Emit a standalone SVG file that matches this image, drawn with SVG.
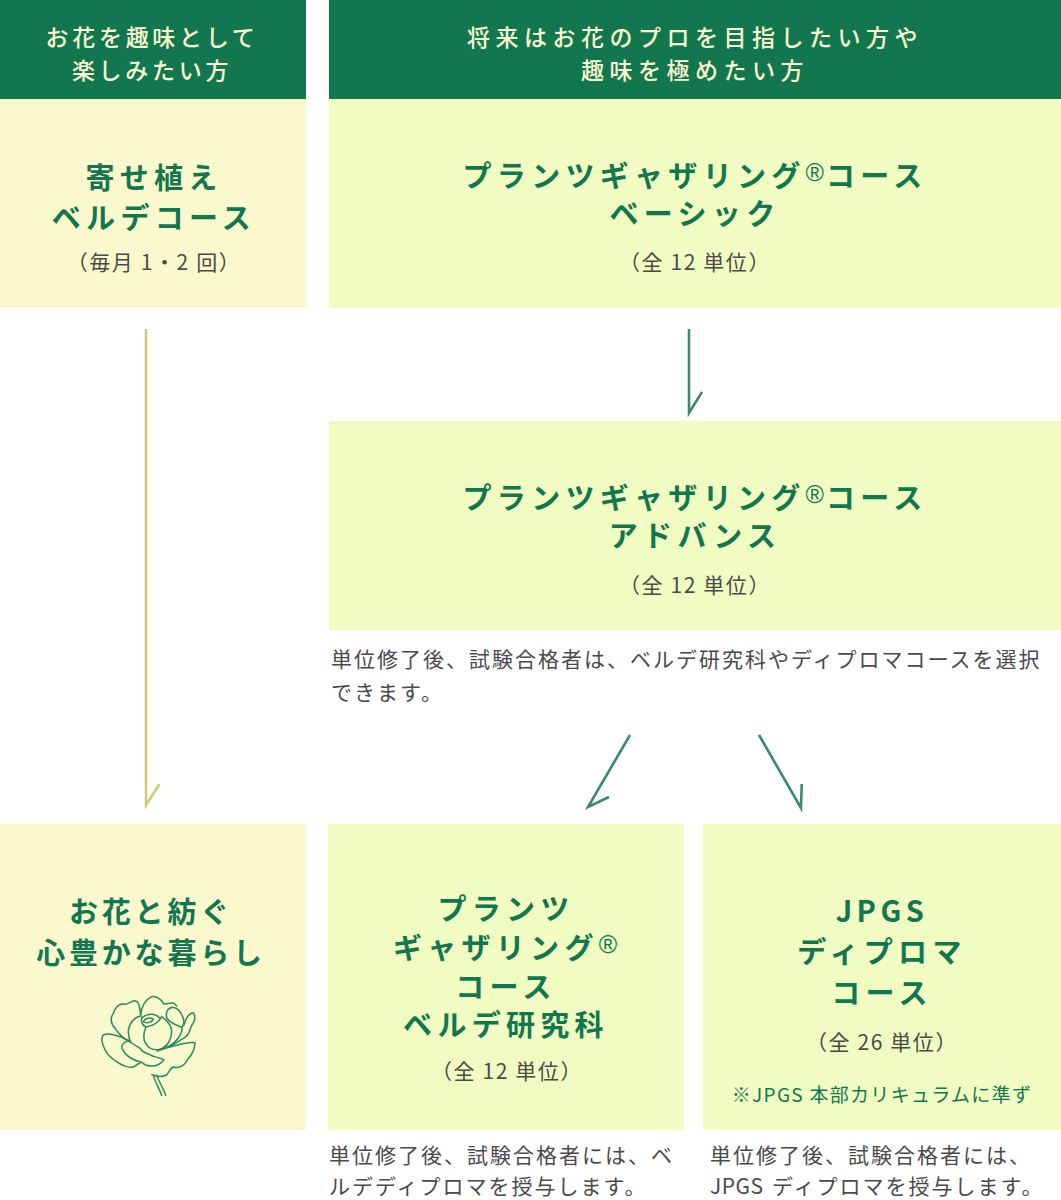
<svg xmlns="http://www.w3.org/2000/svg" width="1061" height="1200" viewBox="0 0 1061 1200">
<style>
text{font-family:"Noto Sans CJK JP","Noto Sans",sans-serif;text-anchor:middle}
.hd{fill:#fbf8cf;font-size:23px;font-weight:500;letter-spacing:3.7px}
.hd2{letter-spacing:5.500px}
.tt{fill:#12774f;font-size:29px;font-weight:700;letter-spacing:5.300px}
.tl{letter-spacing:3.800px}
.reg{font-family:"Liberation Sans",sans-serif;font-size:25px;font-weight:400;letter-spacing:2px}
.sub{fill:#4a4a4a;font-size:21px;font-weight:400;letter-spacing:1.600px}
.note{fill:#4a4a4a;font-size:21px;font-weight:400;letter-spacing:2px;text-anchor:start}
.lat{letter-spacing:.5px}
.sm{fill:#12774f;font-size:19px;font-weight:400;letter-spacing:1.300px}
.g{fill:#12774f}.a{fill:#faf8cd}.b{fill:#f0fcc2}
.c1{fill:none;stroke:#3b8b6b;stroke-width:2.6}
.c2{fill:none;stroke:#cfcb78;stroke-width:2.6}
.fl{fill:none;stroke:#2b8a60;stroke-width:4.500;stroke-linejoin:round;stroke-linecap:round}
</style>
<g id="connectors">
<path class="c2" d="M146 329V805L159.500 784"/>
<path class="c1" d="M689 329V413L702 392"/>
<path class="c1" d="M630 735L588 807L609 797"/>
<path class="c1" d="M759 735L801 808L801.700 784"/>
</g>
<g id="node-hobby">
<rect class="g" x="0" y="0" width="306" height="99"/>
<text class="hd" x="152" y="46">お花を趣味として</text>
<text class="hd" x="152" y="79">楽しみたい方</text>
<rect class="a" x="0" y="99" width="306" height="209"/>
<text class="tt" x="154" y="189">寄せ植え</text>
<text class="tt" x="154" y="229">ベルデコース</text>
<text class="sub" x="154" y="270">（毎月 1・2 回）</text>
</g>
<g id="node-basic">
<rect class="g" x="329" y="0" width="732" height="99"/>
<text class="hd hd2" x="695" y="46">将来はお花のプロを目指したい方や</text>
<text class="hd hd2" x="695" y="79">趣味を極めたい方</text>
<rect class="b" x="329" y="99" width="732" height="209"/>
<text class="tt" x="695" y="187">プランツギャザリング<tspan class="reg" dy="-6">®</tspan><tspan dy="6">コース</tspan></text>
<text class="tt" x="695" y="225">ベーシック</text>
<text class="sub" x="695" y="270">（全 12 単位）</text>
</g>
<g id="node-advance">
<rect class="b" x="329" y="421" width="732" height="209"/>
<text class="tt" x="695" y="509">プランツギャザリング<tspan class="reg" dy="-6">®</tspan><tspan dy="6">コース</tspan></text>
<text class="tt" x="695" y="547">アドバンス</text>
<text class="sub" x="695" y="593">（全 12 単位）</text>
<text class="note" x="331" y="667">単位修了後、試験合格者は、ベルデ研究科やディプロマコースを選択</text>
<text class="note" x="331" y="700">できます。</text>
</g>
<g id="node-life">
<rect class="a" x="0" y="824" width="306" height="306"/>
<text class="tt tl" x="151" y="923">お花と紡ぐ</text>
<text class="tt tl" x="151" y="964">心豊かな暮らし</text>
<g class="fl" transform="translate(60 980) scale(.3333)">
<path d="M242 105C238 82 240 65 225 62C210 62 205 76 190 72C175 72 165 85 160 100C150 115 152 130 165 145C176 158 185 178 212 184"/>
<path d="M242 105C245 75 255 60 275 50C290 47 305 60 312 72C325 72 340 62 350 78"/>
<path d="M320 112C316 95 325 82 340 82C352 84 364 98 370 115C372 122 372 130 368 140"/>
<path d="M372 135C376 120 385 100 400 98C408 108 404 125 396 135C388 148 392 160 375 172C365 178 355 185 330 200"/>
<path d="M242 108C225 112 210 125 205 150C205 165 208 178 212 186"/>
<path d="M245 112C243 125 245 135 258 141C250 160 248 178 258 192C268 207 285 212 300 208C322 200 336 178 335 152C333 138 322 122 305 110C298 125 280 138 258 141"/>
<path d="M245 115C258 100 285 98 298 113"/>
<path d="M250 125C256 115 268 110 280 118C276 126 262 132 250 125Z"/>
<path d="M320 114C330 130 350 136 366 142C368 160 352 185 328 198C315 204 305 208 292 212"/>
<path d="M130 165C145 158 175 165 205 182C190 188 183 195 186 205C195 225 215 240 245 247C260 260 290 266 312 240C300 232 280 232 270 224C255 218 245 215 240 205C225 195 215 188 205 184"/>
<path d="M130 165C120 178 130 205 145 225C160 240 190 262 215 262C225 262 228 252 240 250"/>
<path d="M292 212C320 206 370 185 405 188C405 205 395 225 382 240C375 255 360 265 345 262C335 258 330 270 320 285C305 292 285 288 275 284"/>
<path d="M280 286C285 305 300 330 305 346"/>
<path d="M290 286C297 305 310 325 317 346"/>
</g>
</g>
<g id="node-kenkyuka">
<rect class="b" x="328" y="824" width="356" height="306"/>
<text class="tt" x="506" y="920">プランツ</text>
<text class="tt" x="506" y="959">ギャザリング<tspan class="reg" dy="-6">®</tspan></text>
<text class="tt" x="506" y="998">コース</text>
<text class="tt" x="506" y="1036">ベルデ研究科</text>
<text class="sub" x="507" y="1079">（全 12 単位）</text>
<text class="note" x="329" y="1163">単位修了後、試験合格者には、ベ</text>
<text class="note" x="329" y="1193.800">ルデディプロマを授与します。</text>
</g>
<g id="node-diploma">
<rect class="b" x="703" y="824" width="358" height="306"/>
<text class="tt" x="882" y="922" style="letter-spacing:4.500px">JPGS</text>
<text class="tt" x="882" y="963">ディプロマ</text>
<text class="tt" x="882" y="1004">コース</text>
<text class="sub" x="882" y="1050">（全 26 単位）</text>
<text class="sm" x="882" y="1102">※JPGS 本部カリキュラムに準ず</text>
<text class="note" x="710" y="1163">単位修了後、試験合格者には、</text>
<text class="note" x="710" y="1193.800"><tspan class="lat">JPGS</tspan><tspan x="772">ディプロマを授与します。</tspan></text>
</g>
</svg>
